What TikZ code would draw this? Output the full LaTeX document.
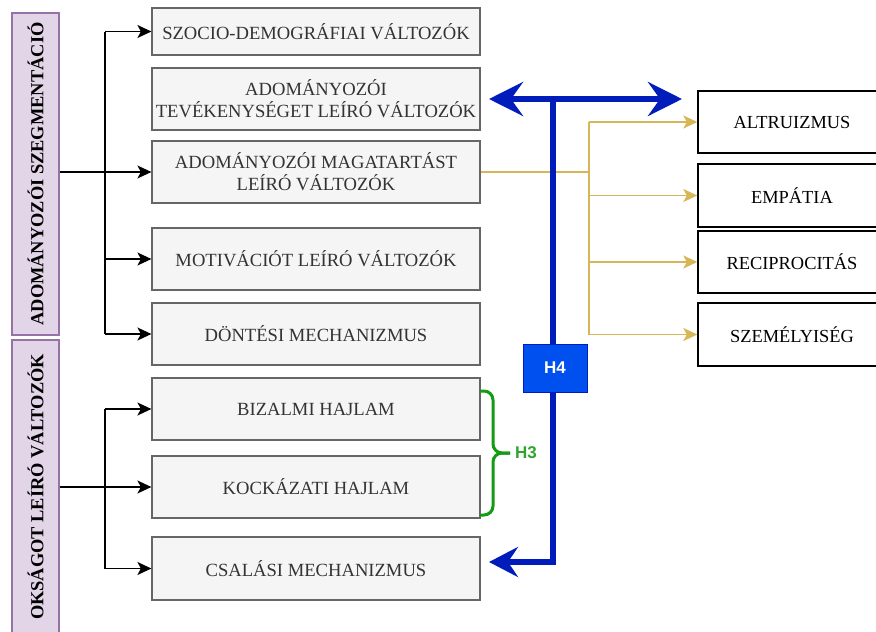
\documentclass[tikz,border=0pt]{standalone}
\usepackage{fontspec}
\setmainfont{Liberation Serif}
\newfontfamily\hfont{Liberation Sans}
\usetikzlibrary{arrows.meta}
\definecolor{grayfill}{HTML}{F5F5F5}
\definecolor{grayline}{HTML}{666666}
\definecolor{graytext}{HTML}{333333}
\definecolor{purplefill}{HTML}{E1D5E7}
\definecolor{purpleline}{HTML}{9673A6}
\definecolor{goldline}{HTML}{D6B656}
\definecolor{blueline}{HTML}{001DBC}
\definecolor{bluefill}{HTML}{0050EF}
\definecolor{bracegreen}{HTML}{139B13}
\definecolor{textgreen}{HTML}{2EA52E}
\tikzset{
  bigtip/.tip={Stealth[length=34pt,width=34pt,inset=12pt]},
  smalltip/.tip={Stealth[length=29pt,width=30pt,inset=10pt]},
  smtip/.tip={Stealth[length=14pt,width=13pt,inset=3.5pt]},
}
\begin{document}
\begin{tikzpicture}[x=1pt,y=-1pt,
  graybox/.style={draw=grayline, line width=1.2pt, fill=grayfill, text=graytext,
    font=\fontsize{18.6}{22}\selectfont, minimum width=328pt, minimum height=62pt,
    align=center, inner sep=0pt},
  rightbox/.style={draw=black, line width=1.4pt, fill=white, text=black,
    font=\fontsize{18.4}{22}\selectfont, minimum width=188pt, minimum height=62pt,
    align=center, inner sep=0pt},
  purplebox/.style={draw=purpleline, line width=1.4pt, fill=purplefill, text=black,
    font=\bfseries\fontsize{18.4}{22}\selectfont, minimum height=47pt,
    inner sep=0pt, rotate=90},
  blk/.style={draw=black, line width=1.3pt},
  blkarrow/.style={blk, -smtip},
  gold/.style={draw=goldline, line width=1.5pt},
  goldarrow/.style={gold, -smtip},
  bluel/.style={draw=blueline, line width=5.5pt},
]
\useasboundingbox (0,0) rectangle (876,632);
\clip (0,0) rectangle (876,632);

% purple boxes
\node[purplebox, minimum width=322pt] (p1) at (35.5,174) {ADOMÁNYOZÓI SZEGMENTÁCIÓ};
\node[purplebox, minimum width=294pt] (p2) at (35.5,487) {OKSÁGOT LEÍRÓ VÁLTOZÓK};

% gray boxes
\node[graybox, minimum height=47pt] (b1) at (316,31.5) {SZOCIO-DEMOGRÁFIAI VÁLTOZÓK};
\node[graybox] (b2) at (316,99) {ADOMÁNYOZÓI\\TEVÉKENYSÉGET LEÍRÓ VÁLTOZÓK};
\node[graybox] (b3) at (316,172) {ADOMÁNYOZÓI MAGATARTÁST\\LEÍRÓ VÁLTOZÓK};
\node[graybox] (b4) at (316,259) {MOTIVÁCIÓT LEÍRÓ VÁLTOZÓK};
\node[graybox] (b5) at (316,334) {DÖNTÉSI MECHANIZMUS};
\node[graybox] (b6) at (316,409) {BIZALMI HAJLAM};
\node[graybox] (b7) at (316,487) {KOCKÁZATI HAJLAM};
\node[graybox, minimum height=63pt] (b8) at (316,568.5) {CSALÁSI MECHANIZMUS};

% right boxes
\node[rightbox] (r1) at (792,122) {ALTRUIZMUS};
\node[rightbox, minimum height=63pt] (r2) at (792,195.5) {EMPÁTIA};
\node[rightbox] (r3) at (792,262) {RECIPROCITÁS};
\node[rightbox, minimum height=63pt] (r4) at (792,334.5) {SZEMÉLYISÉG};

% black trees
\coordinate (j1) at (105,0);
\draw[blk, line width=2.2pt] (p1.south |- b3.west) -- (j1 |- b3.west);
\draw[blkarrow] (j1 |- b3.west) -- (b3.west);
\draw[blk] (j1 |- b1.west) -- (j1 |- b5.west);
\draw[blkarrow] (j1 |- b1.west) -- (b1.west);
\draw[blkarrow] (j1 |- b4.west) -- (b4.west);
\draw[blkarrow] (j1 |- b5.west) -- (b5.west);

\draw[blk] (p2.south |- b7.west) -- (j1 |- b7.west);
\draw[blkarrow] (j1 |- b7.west) -- (b7.west);
\draw[blk] (j1 |- b6.west) -- (j1 |- b8.west);
\draw[blkarrow] (j1 |- b6.west) -- (b6.west);
\draw[blkarrow] (j1 |- b8.west) -- (b8.west);

% gold tree
\coordinate (g) at (589,0);
\draw[gold] (b3.east) -- (g |- b3.east);
\draw[gold] (g |- r1.west) -- (g |- r4.west);
\draw[goldarrow] (g |- r1.west) -- (r1.west);
\draw[goldarrow] (g |- r2.west) -- (r2.west);
\draw[goldarrow] (g |- r3.west) -- (r3.west);
\draw[goldarrow] (g |- r4.west) -- (r4.west);

% blue H4
\coordinate (bl) at (489,99);
\coordinate (br) at (682,99);
\coordinate (bt) at (553,99);
\coordinate (bb) at (553,562);
\coordinate (bend) at (489,562);
\draw[bluel, bigtip-bigtip] (bl) -- (br);
\draw[bluel, -smalltip] (bt) -- (bb) -- (bend);
\node[draw=blueline, line width=1pt, fill=bluefill, text=white,
  font=\hfont\bfseries\fontsize{17}{20}\selectfont,
  minimum width=64pt, minimum height=48pt, inner sep=0pt] (h4) at (555,368) {H4};

% green brace H3
\coordinate (gt) at (480,391);
\coordinate (gb) at (480,515);
\coordinate (gm) at (493,453);
\coordinate (gtip) at (510,453);
\draw[draw=bracegreen, line width=3pt, rounded corners=9pt]
  (gt) -- (gm |- gt) -- (gm) -- (gtip);
\draw[draw=bracegreen, line width=3pt, rounded corners=9pt]
  (gb) -- (gm |- gb) -- (gm) -- (gtip);
\node[text=textgreen, font=\hfont\bfseries\fontsize{17}{20}\selectfont,
  anchor=west, inner sep=0pt] (h3) at (515,453) {H3};
\end{tikzpicture}
\end{document}
